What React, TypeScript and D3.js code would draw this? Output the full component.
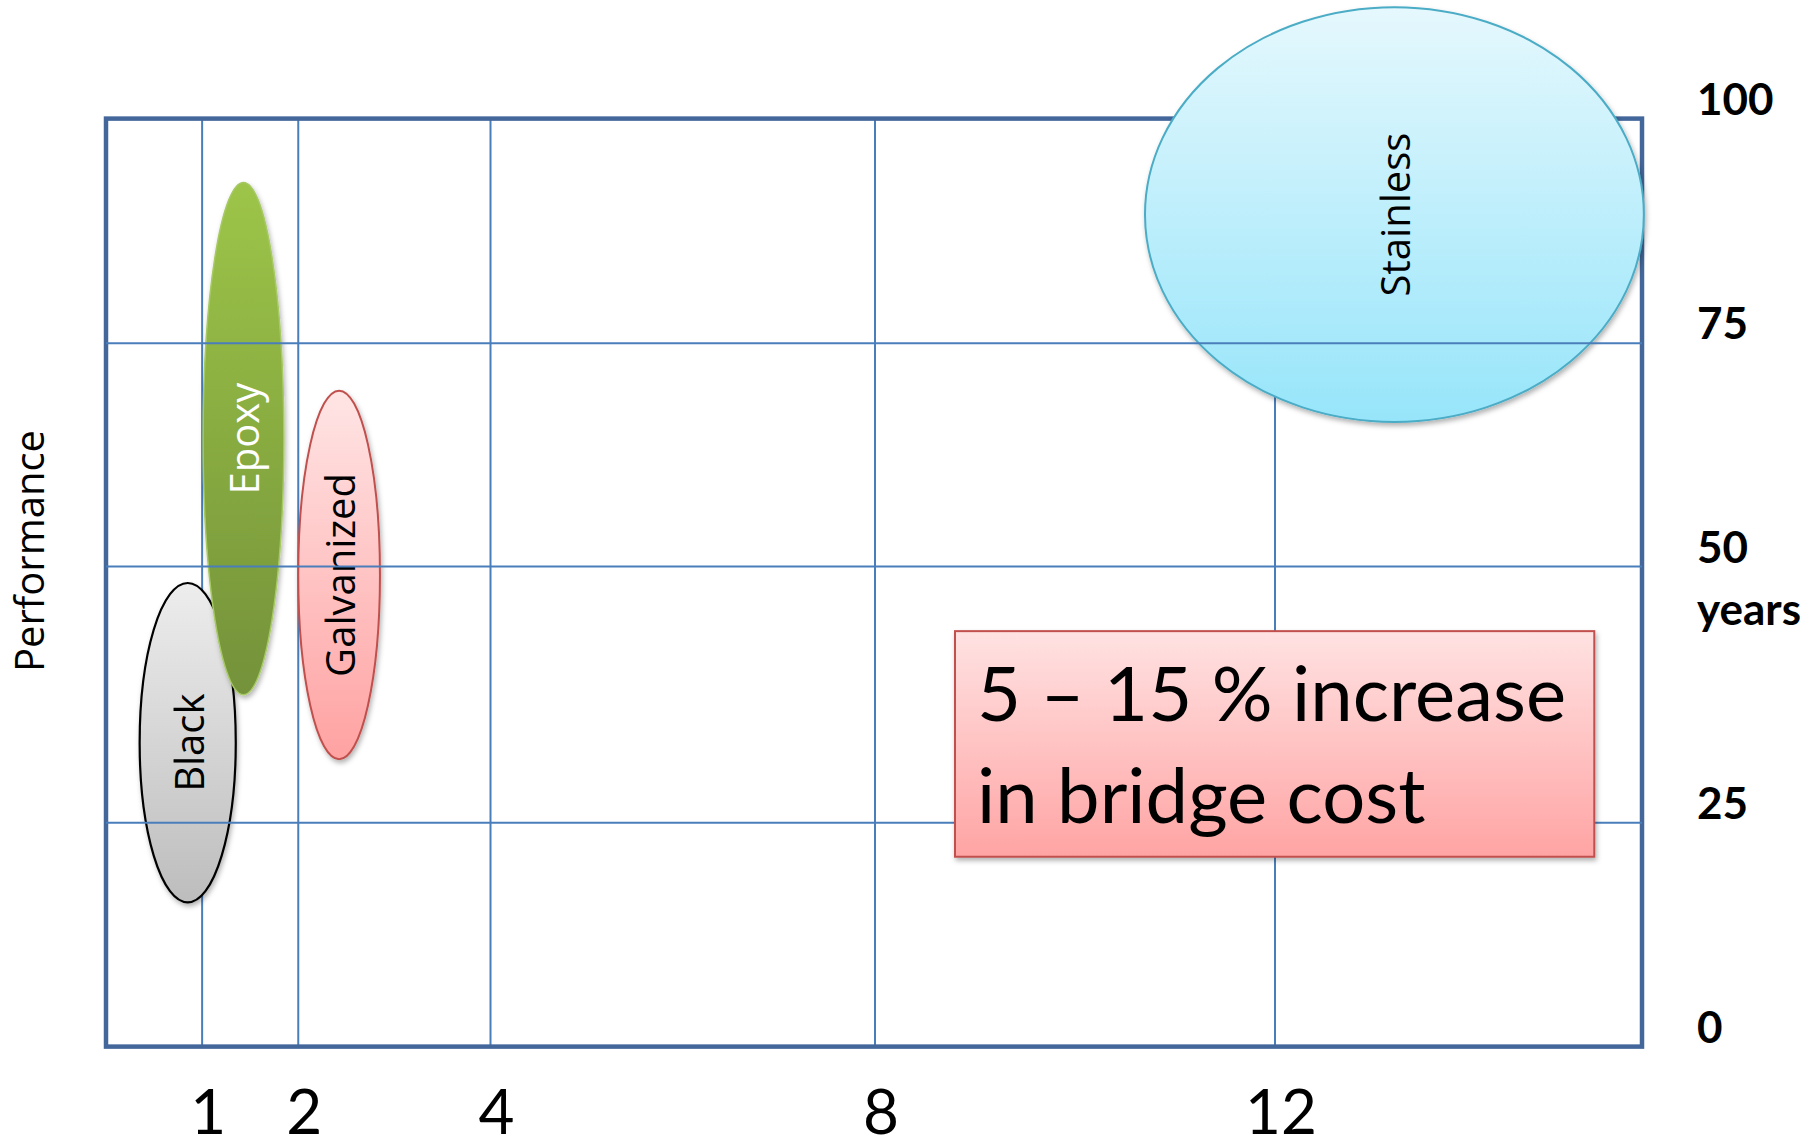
import React from "react";
import * as d3 from "d3";

// Rebar types: cost factor range (x) and service-life range in years (y)
const materials = ["Black", "Epoxy", "Galvanized", "Stainless"];
const costLow = [0.35, 1.01, 2.0, 10.7];
const costHigh = [1.35, 1.85, 2.85, 16.02];
const lifeLow = [16.1, 37.5, 31.2, 66.2];
const lifeHigh = [48.4, 92.9, 69.7, 112.4];

const costTicks = [1, 2, 4, 8, 12];
const lifeTicks = [0, 25, 50, 75, 100];
const costBreaks = [0, 8, 12, 16];
const lifeBreaks = [0, 25, 50, 75, 100];

const noteLines = ["5 – 15 % increase", "in bridge cost"];
const noteCost = [8.8, 15.48];
const noteLife = [21.2, 43.7];

const palette = {
  Black: { top: "#ededed", bottom: "#bdbdbd", stroke: "#000000", sw: 2.2, text: "#000000" },
  Epoxy: { top: "#9dc548", bottom: "#74923a", stroke: "#a6c964", sw: 1.5, text: "#ffffff" },
  Galvanized: { top: "#ffe5e5", bottom: "#ffa2a2", stroke: "#c0504d", sw: 2, text: "#000000" },
  Stainless: { top: "#e5f8fd", bottom: "#97e5fa", stroke: "#4bacc6", sw: 2, text: "#000000" },
};

const W = 1820;
const H = 1148;

export default function App() {
  const x = d3.scaleLinear().domain(costBreaks).range([106, 875, 1275, 1642]);
  const y = d3.scaleLinear().domain(lifeBreaks).range([1046.6, 822.7, 566.6, 343.3, 118.6]);

  const gridColor = "#4a7ebb";
  const frameColor = "#43679b";
  const labelFont = "'Open Sans', sans-serif";
  const tickFont = "Lato, 'Liberation Sans', sans-serif";

  const shapes = materials.map((m, i) => {
    const x0 = x(costLow[i]);
    const x1 = x(costHigh[i]);
    const yTop = y(lifeHigh[i]);
    const yBot = y(lifeLow[i]);
    return {
      name: m,
      cx: (x0 + x1) / 2,
      cy: (yTop + yBot) / 2,
      rx: (x1 - x0) / 2,
      ry: (yBot - yTop) / 2,
      style: palette[m as keyof typeof palette],
    };
  });

  const nx0 = x(noteCost[0]);
  const nx1 = x(noteCost[1]);
  const ny0 = y(noteLife[1]);
  const ny1 = y(noteLife[0]);

  return (
    <svg
      width={W}
      height={H}
      viewBox={`0 0 ${W} ${H}`}
      style={{ position: "absolute", left: 0, top: 0, background: "#ffffff" }}
    >
      <defs>
        {shapes.map((s) => (
          <linearGradient key={s.name} id={`grad-${s.name}`} x1="0" y1="0" x2="0" y2="1">
            <stop offset="0%" stopColor={s.style.top} />
            <stop offset="100%" stopColor={s.style.bottom} />
          </linearGradient>
        ))}
        <linearGradient id="grad-note" x1="0" y1="0" x2="0" y2="1">
          <stop offset="0%" stopColor="#ffe2e2" />
          <stop offset="100%" stopColor="#ffa4a4" />
        </linearGradient>
        <filter id="shadow" x="-20%" y="-20%" width="140%" height="140%">
          <feDropShadow dx="1.5" dy="3" stdDeviation="2.5" floodColor="#000" floodOpacity="0.3" />
        </filter>
      </defs>

      {/* vertical grid lines */}
      {costTicks.map((t) => (
        <line key={`vx-${t}`} x1={x(t)} x2={x(t)} y1={y(100)} y2={y(0)} stroke={gridColor} strokeWidth={2} />
      ))}

      {/* plot frame */}
      <rect
        x={x(0)}
        y={y(100)}
        width={x(16) - x(0)}
        height={y(0) - y(100)}
        fill="none"
        stroke={frameColor}
        strokeWidth={4.5}
      />

      {/* material ellipses */}
      {shapes.map((s) => (
        <ellipse
          key={`e-${s.name}`}
          cx={s.cx}
          cy={s.cy}
          rx={s.rx}
          ry={s.ry}
          fill={`url(#grad-${s.name})`}
          stroke={s.style.stroke}
          strokeWidth={s.style.sw}
          filter="url(#shadow)"
        />
      ))}
      {shapes.map((s) => (
        <text
          key={`t-${s.name}`}
          transform={`translate(${s.cx},${s.cy}) rotate(-90)`}
          textAnchor="middle"
          dy="0.4em"
          fontFamily={labelFont}
          fontSize={40}
          fill={s.style.text}
        >
          {s.name}
        </text>
      ))}

      {/* horizontal grid lines */}
      {lifeTicks
        .filter((t) => t > 0 && t < 100)
        .map((t) => (
          <line key={`hy-${t}`} x1={x(0)} x2={x(16)} y1={y(t)} y2={y(t)} stroke={gridColor} strokeWidth={2} />
        ))}

      {/* cost note */}
      <rect
        x={nx0}
        y={ny0}
        width={nx1 - nx0}
        height={ny1 - ny0}
        fill="url(#grad-note)"
        stroke="#c0504d"
        strokeWidth={2}
        filter="url(#shadow)"
      />
      {noteLines.map((line, i) => (
        <text
          key={`n-${i}`}
          x={nx0 + 22}
          y={ny0 + 90 + i * 102}
          fontFamily={tickFont}
          fontSize={76}
          fill="#000"
        >
          {line}
        </text>
      ))}

      {/* cost tick labels */}
      {costTicks.map((t) => (
        <text
          key={`xl-${t}`}
          x={x(t) + 6}
          y={1134}
          textAnchor="middle"
          fontFamily={tickFont}
          fontSize={62}
          fill="#000"
        >
          {t}
        </text>
      ))}

      {/* life tick labels */}
      {lifeTicks.map((t) => (
        <text
          key={`yl-${t}`}
          x={1697}
          y={y(t) - 4}
          fontFamily={tickFont}
          fontWeight={700}
          fontSize={44}
          fill="#000"
        >
          {t}
          {t === 50 ? (
            <tspan x={1697} dy="1.42em">
              years
            </tspan>
          ) : null}
        </text>
      ))}

      {/* axis title */}
      <text
        transform={`translate(44,551) rotate(-90)`}
        textAnchor="middle"
        fontFamily={labelFont}
        fontSize={40}
        fill="#000"
      >
        Performance
      </text>
    </svg>
  );
}
